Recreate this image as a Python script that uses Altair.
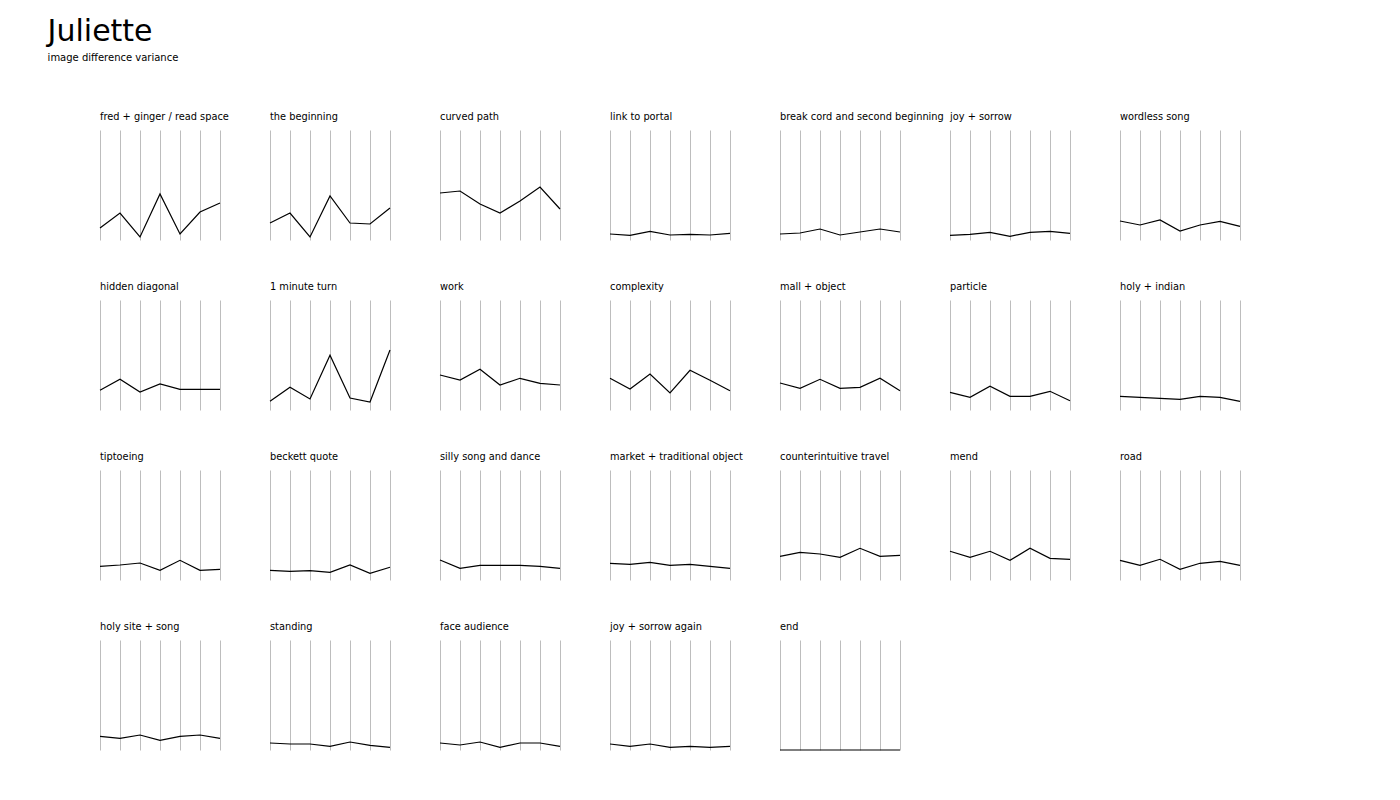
import altair as alt
import pandas as pd

scenes = [
    "fred + ginger / read space", "the beginning", "curved path", "link to portal",
    "break cord and second beginning", "joy + sorrow", "wordless song",
    "hidden diagonal", "1 minute turn", "work", "complexity", "mall + object",
    "particle", "holy + indian",
    "tiptoeing", "beckett quote", "silly song and dance", "market + traditional object",
    "counterintuitive travel", "mend", "road",
    "holy site + song", "standing", "face audience", "joy + sorrow again", "end",
]

steps = [0, 1, 2, 3, 4, 5, 6]

variance = {
    "fred + ginger / read space": [12, 27, 3, 46, 6, 28, 37],
    "the beginning": [17, 27, 3, 44, 17, 16, 32],
    "curved path": [47, 49, 36, 27, 39, 53, 31],
    "link to portal": [6, 4.7, 8.7, 5, 5.7, 5, 6.7],
    "break cord and second beginning": [6, 7, 11, 5, 8, 11, 8],
    "joy + sorrow": [4.7, 5.7, 7.7, 3.7, 7.7, 8.7, 6.7],
    "wordless song": [19, 15, 20, 9, 15, 18.7, 13.7],
    "hidden diagonal": [19.7, 30.7, 18, 26, 20.7, 20.7, 20.7],
    "1 minute turn": [8.7, 22.7, 11, 54.7, 12, 8, 60],
    "work": [35, 30, 40.7, 25, 31.7, 26.7, 25],
    "complexity": [31.7, 21, 36, 17, 39.7, 29.7, 19.3],
    "mall + object": [27, 21.7, 30.7, 21.7, 22.7, 31.7, 19.3],
    "particle": [17.7, 12.7, 23.7, 13.7, 13.7, 18.7, 9.3],
    "holy + indian": [13.7, 12.7, 11.7, 10.7, 13.7, 12.7, 8.7],
    "tiptoeing": [13.7, 15, 17, 9.7, 19.7, 9.7, 10.7],
    "beckett quote": [9.7, 8.7, 9.3, 7.7, 15, 6.7, 12.7],
    "silly song and dance": [20, 11.7, 14.7, 14.7, 14.7, 13.7, 11.7],
    "market + traditional object": [16.7, 15.7, 17.7, 14.7, 15.7, 13.7, 11.7],
    "counterintuitive travel": [23.7, 27.7, 26, 22.7, 31.7, 23.7, 24.7],
    "mend": [28.7, 22.7, 28.7, 19.7, 31.7, 21.7, 20.7],
    "road": [19.7, 14.7, 20.7, 10.7, 16.7, 18.7, 14.7],
    "holy site + song": [13.7, 11.7, 15, 9.7, 13.7, 15, 11.7],
    "standing": [7, 6, 6, 3.7, 8, 4.7, 2.7],
    "face audience": [7, 5, 8, 2.7, 7, 7, 3.7],
    "joy + sorrow again": [6, 3.7, 6, 2.7, 3.7, 2.7, 3.7],
    "end": [0, 0, 0, 0, 0, 0, 0],
}

rows = []
for s in scenes:
    for i, v in zip(steps, variance[s]):
        rows.append({"scene": s, "step": i, "variance": v})
df = pd.DataFrame(rows)

FONT = "DejaVu Sans"

base = alt.Chart(df).mark_line(color="black", strokeWidth=1.2).encode(
    x=alt.X("step:Q", scale=alt.Scale(domain=[0, 6], nice=False),
            axis=alt.Axis(values=steps, grid=True, gridColor="#bdbdbd", gridWidth=1,
                          labels=False, ticks=False, domain=False, title=None)),
    y=alt.Y("variance:Q", scale=alt.Scale(domain=[0, 110], nice=False), axis=None),
).properties(width=120, height=110)

chart = base.facet(
    facet=alt.Facet("scene:N", sort=scenes, title=None,
                    header=alt.Header(labelAnchor="start", labelAlign="left",
                                      labelFont=FONT, labelFontSize=9.8,
                                      labelColor="black", labelPadding=8)),
    columns=7,
    spacing={"column": 50, "row": 60},
    bounds="flush",
).properties(
    title=alt.TitleParams("Juliette", subtitle="image difference variance",
                          anchor="start", font=FONT, fontSize=30, fontWeight="normal",
                          subtitleFont=FONT, subtitleFontSize=10, subtitleColor="black",
                          color="black", dx=-50, offset=49, subtitlePadding=6),
    padding={"left": 47, "top": 17, "right": 10, "bottom": 10},
).configure_view(stroke=None)

chart.save("out.html", embed_options={"renderer": "svg", "actions": False})
